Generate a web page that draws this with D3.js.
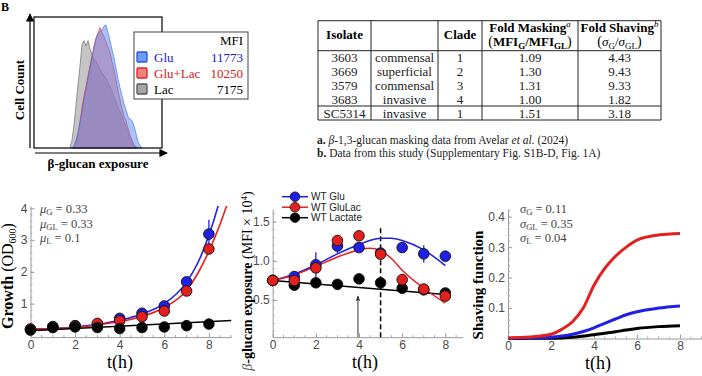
<!DOCTYPE html>
<html><head><meta charset="utf-8">
<script src="https://cdn.jsdelivr.net/npm/d3@7"></script>
<style>
body{margin:0;background:#fff;}
svg{display:block;font-family:"Liberation Serif","Times New Roman",serif;}
</style></head><body>
<svg id="c" width="702" height="376"></svg>
<script>
// ================= DATA =================
// Panel A : flow-cytometry histograms (bin index on exposure axis, cell counts)
const histStartLac = 18, histStartGluLac = 20, histStartGlu = 19;
const histLac    = [0,6,18,33,48,63,79,82,78,82,76,71,68,66,63,60,58,55,53,50,47,43,39,35,31,28,24,20,16,12,8,5,2,1,0];
const histGluLac = [0,4,10,20,31,40,47,55,63,70,78,84,88,92,88,85,81,77,73,66,60,52,44,37,30,24,21,15,10,6,2,0];
const histGlu    = [0,2,6,12,20,27,37,44,53,61,69,76,83,87,89,90,93,94,88,82,75,69,61,53,46,40,34,29,24,22,21,17,11,5,2,0];
const legendNames = ["Glu","Glu+Lac","Lac"];
const legendMFI = ["11773","10250","7175"];

// Table
const tableIsolates = ["3603","3669","3579","3683","SC5314"];
const tableTypes = ["commensal","superficial","commensal","invasive","invasive"];
const tableClades = ["1","2","3","4","1"];
const tableMasking = ["1.09","1.30","1.31","1.00","1.51"];
const tableShaving = ["4.43","9.43","9.33","1.82","3.18"];

// Panel C : growth (OD600)
const timePoints = [0,1,2,3,4,5,6,7,8];
const growthGlu    = [0.2,0.28,0.31,0.36,0.54,0.70,0.93,1.69,3.19];
const growthGluErr = [0,0,0,0,0,0,0,0.12,0.45];
const growthGluLac = [0.2,0.27,0.30,0.38,0.46,0.59,0.77,1.40,2.72];
const growthLac    = [0.17,0.25,0.27,0.25,0.22,0.25,0.27,0.31,0.36];
const fitTimesC      = [0,1,2,3,4,5,6,7,7.5,8,8.5,9];
const fitGrowthGlu   = [0.2,0.22,0.27,0.35,0.48,0.68,1.0,1.68,2.28,3.15,4.3,5.8];
const fitGrowthGluLac= [0.2,0.22,0.26,0.33,0.44,0.60,0.88,1.42,1.95,2.65,3.5,4.5];
const fitLacTimes = [0,9];
const fitGrowthLac = [0.15,0.47];
const muLabels = [["G","0.33"],["GL","0.33"],["L","0.1"]];

// Panel D : beta-glucan exposure (MFI x 10^4)
const exposureGlu      = [0.75,0.80,0.95,1.19,1.17,1.10,1.17,1.09,1.06];
const exposureGluErr   = [0,0,0.16,0.09,0.03,0,0.03,0.11,0.03];
const exposureGluLac   = [0.75,0.75,0.91,1.26,1.32,1.085,0.76,0.64,0.55];
const exposureGluLacErr= [0,0,0.07,0.07,0.05,0.045,0.03,0.02,0.03];
const exposureLac      = [0.75,0.69,0.72,0.70,0.77,0.72,0.65,0.63,0.59];
const fitTimesD = [0,1,2,3,4,4.5,5,5.5,6,7,8];
const fitExposureGlu    = [0.75,0.83,0.95,1.09,1.21,1.26,1.29,1.29,1.26,1.14,0.94];
const fitExposureGluLac = [0.75,0.82,0.93,1.05,1.14,1.16,1.13,1.03,0.88,0.65,0.46];
const fitLacTimesD = [0,8];
const fitExposureLac = [0.75,0.57];
const legendD = ["WT Glu","WT GluLac","WT Lactate"];

// Panel E : shaving function
const timesE = [0,1,2,2.5,3,3.5,4,4.5,5,5.5,6,7,8];
const shavingGluLac = [0.002,0.005,0.014,0.03,0.055,0.10,0.175,0.23,0.27,0.30,0.323,0.34,0.345];
const shavingGlu    = [0.001,0.002,0.004,0.008,0.014,0.023,0.035,0.05,0.064,0.078,0.088,0.10,0.107];
const shavingLac    = [0,0.0005,0.001,0.002,0.004,0.008,0.012,0.017,0.022,0.028,0.033,0.039,0.042];
const sigmaLabels = [["G","0.11"],["GL","0.35"],["L","0.04"]];

// ================= DRAW =================
const svg = d3.select("#c");
const BLUE="#1f1fe6", RED="#e4201e", BLACK="#000";

function rich(parent, x, y, segs, attrs={}) {
  const t = parent.append("text").attr("x",x).attr("y",y);
  Object.entries(attrs).forEach(([k,v])=>t.attr(k,v));
  let shift = 0;
  segs.forEach(s=>{
    const sp = t.append("tspan").text(s.t);
    const target = s.sub ? s.sub : (s.sup ? -s.sup : 0);
    if (target!==shift) { sp.attr("dy", target-shift); shift = target; }
    if (s.b) sp.attr("font-weight","bold");
    if (s.i) sp.attr("font-style","italic");
    if (s.fs) sp.attr("font-size", s.fs);
    if (s.fill) sp.attr("fill", s.fill);
  });
  return t;
}

// corner label
svg.append("text").attr("x",1).attr("y",11).attr("font-weight","bold").attr("font-size",12).text("B");

// ---------- Panel A ----------
const xH = d3.scaleLinear([0,64],[34,162]);
const yH = d3.scaleLinear([0,100],[148,17]);
const defs = svg.append("defs");
defs.append("marker").attr("id","arr").attr("viewBox","0 0 10 10").attr("refX",9).attr("refY",5)
  .attr("markerWidth",7).attr("markerHeight",7).attr("orient","auto-start-reverse")
  .append("path").attr("d","M0,0L10,5L0,10z").attr("fill","#000");
defs.append("marker").attr("id","arrg").attr("viewBox","0 0 10 10").attr("refX",9).attr("refY",5)
  .attr("markerWidth",6).attr("markerHeight",6).attr("orient","auto")
  .append("path").attr("d","M0,1L10,5L0,9L3,5z").attr("fill","#333");

const histSeries = [
  {d:histLac, s:histStartLac, fill:"#8c8c8c", stroke:"#666"},
  {d:histGluLac, s:histStartGluLac, fill:"#ee5a5a", stroke:"#e02828"},
  {d:histGlu, s:histStartGlu, fill:"#5a86ef", stroke:"#3a6ee8"}
];
const area = d3.area().x(d=>xH(d[0])).y0(yH(0)).y1(d=>yH(d[1]));
histSeries.forEach(h=>{
  const pts = h.d.map((v,i)=>[h.s+i, v]);
  svg.append("path").attr("d",area(pts)).attr("fill",h.fill).attr("fill-opacity",0.5)
    .attr("stroke",h.stroke).attr("stroke-width",0.8).attr("stroke-opacity",0.8);
});
svg.append("rect").attr("x",xH(0)).attr("y",yH(100)).attr("width",xH(64)-xH(0)).attr("height",yH(0)-yH(100))
  .attr("fill","none").attr("stroke","#000").attr("stroke-width",1.2);
svg.append("line").attr("x1",30).attr("x2",30).attr("y1",yH(0)).attr("y2",14)
  .attr("stroke","#000").attr("stroke-width",1.2).attr("marker-end","url(#arr)");
svg.append("line").attr("x1",35).attr("x2",167).attr("y1",153).attr("y2",153)
  .attr("stroke","#000").attr("stroke-width",1.2).attr("marker-end","url(#arr)");
svg.append("text").attr("transform","translate(24,90) rotate(-90)").attr("text-anchor","middle")
  .attr("font-weight","bold").attr("font-size",13).text("Cell Count");
svg.append("text").attr("x",98).attr("y",168).attr("text-anchor","middle")
  .attr("font-weight","bold").attr("font-size",13).text("β-glucan exposure");
// legend
const lg = svg.append("g");
lg.append("rect").attr("x",134).attr("y",32).attr("width",114).attr("height",67).attr("fill","#fff").attr("stroke","#444").attr("stroke-width",1);
lg.append("text").attr("x",243).attr("y",45).attr("text-anchor","end").attr("font-size",13).text("MFI");
const legCols=[{f:"#6d9cf3",s:"#2a55e0",t:"#1a1ac8"},{f:"#f08282",s:"#dc2323",t:"#d42020"},{f:"#a6a6a6",s:"#555",t:"#000"}];
legendNames.forEach((n,i)=>{
  const cy = 57+i*16;
  lg.append("rect").attr("x",137).attr("y",cy-5).attr("width",10).attr("height",10)
    .attr("fill",legCols[i].f).attr("stroke",legCols[i].s).attr("stroke-width",1.3).attr("rx",1);
  lg.append("text").attr("x",154).attr("y",cy+4.5).attr("font-size",13).attr("fill",legCols[i].t).text(n);
  lg.append("text").attr("x",243).attr("y",cy+4.5).attr("text-anchor","end").attr("font-size",13).attr("fill",legCols[i].t).text(legendMFI[i]);
});

// ---------- Table ----------
const tg = svg.append("g").attr("font-size",13);
const colX = [318,371,438,482,578,661];
const hLines = [20.7,50.7,106,120];
hLines.forEach(y=>tg.append("line").attr("x1",colX[0]).attr("x2",colX[5]).attr("y1",y).attr("y2",y).attr("stroke","#222").attr("stroke-width",1));
colX.forEach(x=>tg.append("line").attr("x1",x).attr("x2",x).attr("y1",hLines[0]).attr("y2",hLines[3]).attr("stroke","#222").attr("stroke-width",1));
const cx = d3.range(5).map(i=>(colX[i]+colX[i+1])/2);
tg.append("text").attr("x",cx[0]).attr("y",39).attr("text-anchor","middle").attr("font-weight","bold").text("Isolate");
tg.append("text").attr("x",cx[2]).attr("y",39).attr("text-anchor","middle").attr("font-weight","bold").text("Clade");
rich(tg,cx[3],32,[{t:"Fold Masking",b:1},{t:"a",i:1,sup:5,fs:9}],{"text-anchor":"middle"});
rich(tg,cx[3],46,[{t:"(",fs:14},{t:"MFI",b:1},{t:"G",b:1,sub:3,fs:9},{t:"/MFI",b:1},{t:"GL",b:1,sub:3,fs:9},{t:")",fs:14}],{"text-anchor":"middle"});
rich(tg,cx[4],32,[{t:"Fold Shaving",b:1},{t:"b",i:1,sup:5,fs:9}],{"text-anchor":"middle"});
rich(tg,cx[4],46,[{t:"(",fs:14},{t:"σ",i:1},{t:"G",sub:3,fs:9},{t:"/"},{t:"σ",i:1},{t:"GL",sub:3,fs:9},{t:")",fs:14}],{"text-anchor":"middle"});
const rowCols=[tableIsolates,tableTypes,tableClades,tableMasking,tableShaving];
tableIsolates.forEach((_,r)=>{
  const y = 61.7 + r*14.15;
  rowCols.forEach((col,c)=>tg.append("text").attr("x",cx[c]).attr("y",y).attr("text-anchor","middle").attr("fill","#222").text(col[r]));
});
const fg = svg.append("g").attr("font-size",11.5).attr("fill","#222");
rich(fg,317,143.5,[{t:"a.",b:1},{t:" "},{t:"β",i:1},{t:"-1,3-glucan masking data from Avelar "},{t:"et al.",i:1},{t:"  (2024)"}]);
rich(fg,317,157,[{t:"b.",b:1},{t:" Data from this study (Supplementary Fig. S1B-D, Fig. 1A)"}]);

// ---------- axis helper ----------
function axes(x, y, xt, yt, yfmt, xminor, yminor, pad=3) {
  const g = svg.append("g");
  const ax = g.append("g").attr("transform",`translate(0,${y.range()[0]})`)
    .call(d3.axisBottom(x).tickValues(xt).tickSize(-4).tickSizeOuter(0).tickPadding(pad).tickFormat(d3.format("d")));
  const ay = g.append("g").attr("transform",`translate(${x.range()[0]},0)`)
    .call(d3.axisLeft(y).tickValues(yt).tickSize(-4).tickSizeOuter(0).tickPadding(3).tickFormat(yfmt));
  [ax,ay].forEach(a=>{
    a.select(".domain").attr("stroke","#9a9a9a");
    a.selectAll(".tick line").attr("stroke","#9a9a9a");
    a.selectAll(".tick text").attr("fill","#4a4a4a").attr("font-family","Liberation Sans, Arial, sans-serif").attr("font-size",12);
  });
  g.selectAll(".mx").data(xminor).join("line").attr("x1",d=>x(d)).attr("x2",d=>x(d))
    .attr("y1",y.range()[0]).attr("y2",y.range()[0]-2).attr("stroke","#aaa");
  g.selectAll(".my").data(yminor).join("line").attr("y1",d=>y(d)).attr("y2",d=>y(d))
    .attr("x1",x.range()[0]).attr("x2",x.range()[0]+2).attr("stroke","#aaa");
}
function dots(g, x, y, vals, color, r=5.3) {
  g.selectAll(null).data(vals).join("circle").attr("cx",(d,i)=>x(timePoints[i])).attr("cy",d=>y(d))
    .attr("r",r).attr("fill",color).attr("stroke","#111").attr("stroke-width",0.9);
}
function errs(g, x, y, vals, err, color) {
  g.selectAll(null).data(vals.map((v,i)=>[timePoints[i],v,err[i]]).filter(d=>d[2]>0)).join("line")
    .attr("x1",d=>x(d[0])).attr("x2",d=>x(d[0])).attr("y1",d=>y(d[1]-d[2])).attr("y2",d=>y(d[1]+d[2]))
    .attr("stroke",color).attr("stroke-width",1.3);
}
function curve(g, x, y, ts, vs, color, w) {
  g.append("path").attr("d",d3.line().x((d,i)=>x(ts[i])).y(d=>y(d)).curve(d3.curveMonotoneX)(vs))
    .attr("fill","none").attr("stroke",color).attr("stroke-width",w);
}
function xlabel(x, y) {
  svg.append("text").attr("x",x).attr("y",y).attr("text-anchor","middle").attr("font-size",18).text("t(h)");
}
function paramLabels(x, sym, labels) {
  labels.forEach((m,i)=>rich(svg,x,213+i*14.6,[{t:sym,i:1},{t:m[0],sub:2,fs:8.5},{t:" = "+m[1]}],{"font-size":12.5,"fill":"#444"}));
}

// ---------- Panel C ----------
const xC = d3.scaleLinear([0,9],[30.5,231.2]);
const yC = d3.scaleLinear([-0.05,4.07],[337.1,206.1]);
axes(xC,yC,[0,2,4,6,8],[1,2,3,4],d3.format("d"),d3.range(0.5,9.01,0.5).filter(d=>d%2), d3.range(0.2,4.01,0.2));
defs.append("clipPath").attr("id","clipC").append("rect").attr("x",25).attr("y",yC(4.07)).attr("width",210).attr("height",140);
const gC = svg.append("g");
const cC = gC.append("g").attr("clip-path","url(#clipC)");
curve(cC,xC,yC,fitTimesC,fitGrowthGlu,BLUE,1.6);
curve(cC,xC,yC,fitTimesC,fitGrowthGluLac,RED,1.6);
curve(cC,xC,yC,fitLacTimes,fitGrowthLac,BLACK,1.4);
errs(gC,xC,yC,growthGlu,growthGluErr,BLUE);
dots(gC,xC,yC,growthGlu,BLUE);
dots(gC,xC,yC,growthGluLac,RED);
dots(gC,xC,yC,growthLac,BLACK);
paramLabels(40,"μ",muLabels);
rich(svg,0,0,[{t:"Growth",b:1},{t:" (OD"},{t:"600",sub:3,fs:10},{t:")"}],{"transform":"translate(13,276) rotate(-90)","text-anchor":"middle","font-size":16});
xlabel(120,368);

// ---------- Panel D ----------
const xD = d3.scaleLinear([0,8.8],[272.7,462.6]);
const yD = d3.scaleLinear([0.025,1.66],[337.2,209.2]);
axes(xD,yD,[0,2,4,6,8],[0.5,1.0,1.5],d3.format(".1f"),d3.range(0.5,8.8,0.5).filter(d=>d%2), d3.range(0.1,1.61,0.1));
const gD = svg.append("g");
gD.append("line").attr("x1",xD(5)).attr("x2",xD(5)).attr("y1",yD(0.025)).attr("y2",yD(1.43))
  .attr("stroke","#000").attr("stroke-width",1.5).attr("stroke-dasharray","5,3");
gD.append("line").attr("x1",xD(3.95)).attr("x2",xD(3.95)).attr("y1",yD(0.025)).attr("y2",yD(0.55))
  .attr("stroke","#333").attr("stroke-width",1).attr("marker-end","url(#arrg)");
curve(gD,xD,yD,fitLacTimesD,fitExposureLac,BLACK,1.5);
curve(gD,xD,yD,fitTimesD,fitExposureGlu,BLUE,1.5);
curve(gD,xD,yD,fitTimesD,fitExposureGluLac,RED,1.5);
dots(gD,xD,yD,exposureLac,BLACK);
errs(gD,xD,yD,exposureGlu,exposureGluErr,BLUE);
dots(gD,xD,yD,exposureGlu,BLUE);
errs(gD,xD,yD,exposureGluLac,exposureGluLacErr,RED);
dots(gD,xD,yD,exposureGluLac,RED);
[BLUE,RED,BLACK].forEach((c,i)=>{
  const yy = 196.7+i*10.5;
  gD.append("line").attr("x1",282).attr("x2",308).attr("y1",yy).attr("y2",yy).attr("stroke",c).attr("stroke-width",1.5);
  gD.append("circle").attr("cx",295).attr("cy",yy).attr("r",4.8).attr("fill",c).attr("stroke","#111").attr("stroke-width",0.8);
  gD.append("text").attr("x",311).attr("y",yy+3.5).attr("font-family","Liberation Sans, Arial, sans-serif")
    .attr("font-size",10).attr("fill","#222").text(legendD[i]);
});
rich(svg,0,0,[{t:"β",i:1,fill:"#555"},{t:"-glucan exposure",b:1},{t:" (MFI × 10"},{t:"4",sup:5,fs:9},{t:")"}],
  {"transform":"translate(252,281) rotate(-90)","text-anchor":"middle","font-size":14});
xlabel(365,368);

// ---------- Panel E ----------
const xE = d3.scaleLinear([0,9],[508,701.5]);
const yE = d3.scaleLinear([0,0.425],[338.5,209.1]);
axes(xE,yE,[0,2,4,6,8],[0.1,0.2,0.3,0.4],d3.format(".1f"),d3.range(0.5,9.01,0.5).filter(d=>d%2), d3.range(0.02,0.421,0.02));
const gE = svg.append("g");
curve(gE,xE,yE,timesE,shavingLac,BLACK,3);
curve(gE,xE,yE,timesE,shavingGlu,BLUE,3);
curve(gE,xE,yE,timesE,shavingGluLac,RED,3);
paramLabels(520,"σ",sigmaLabels);
svg.append("text").attr("transform","translate(483,285) rotate(-90)").attr("text-anchor","middle")
  .attr("font-weight","bold").attr("font-size",15).text("Shaving function");
xlabel(598,369);
</script>
</body></html>
